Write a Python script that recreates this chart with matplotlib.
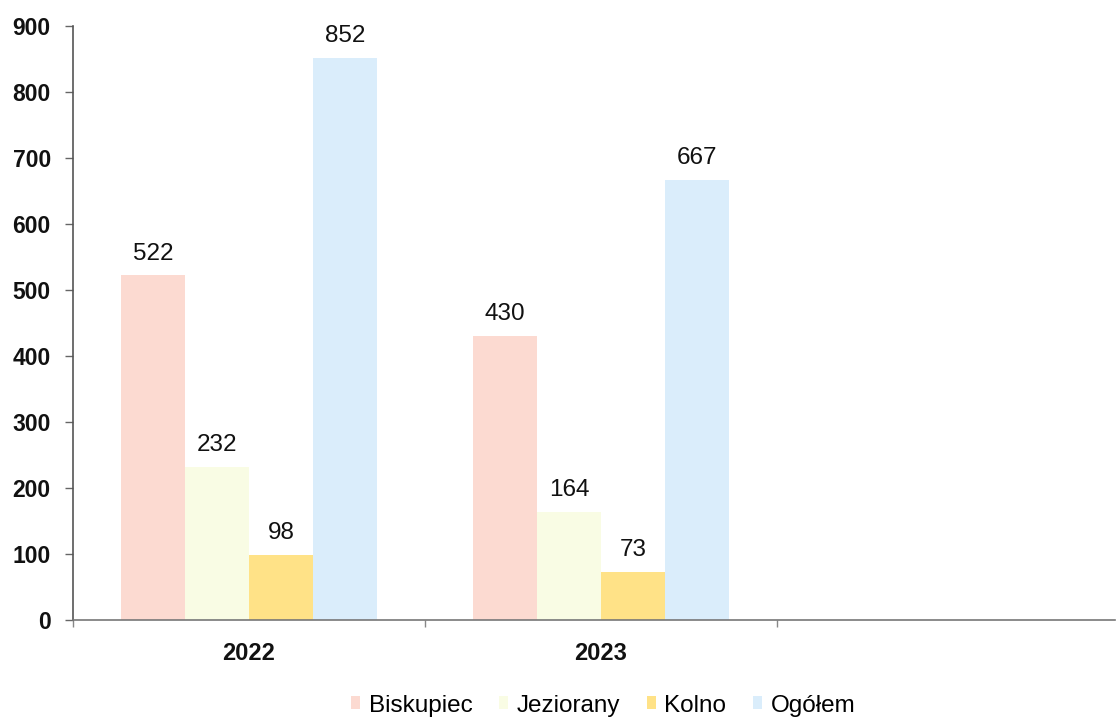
import matplotlib
matplotlib.use("Agg")
import matplotlib.pyplot as plt
import numpy as np

plt.rcParams['font.family'] = ['Liberation Sans', 'DejaVu Sans']

categories = ["2022", "2023", ""]
series_names = ["Biskupiec", "Jeziorany", "Kolno", "Ogółem"]
values = {
    "Biskupiec": [522, 430, None],
    "Jeziorany": [232, 164, None],
    "Kolno": [98, 73, None],
    "Ogółem": [852, 667, None],
}
colors = {
    "Biskupiec": "#FCDAD1",
    "Jeziorany": "#F9FCE4",
    "Kolno": "#FFE287",
    "Ogółem": "#DAEDFB",
}
yticks = [0, 100, 200, 300, 400, 500, 600, 700, 800, 900]

fig = plt.figure(figsize=(11.19, 7.17), dpi=100)
ax = fig.add_axes([73 / 1119, 1 - 620 / 717, (1115 - 73) / 1119, (620 - 26) / 717])

x = np.arange(len(categories))
bw = 0.182
handles = []
for i, name in enumerate(series_names):
    vals = values[name]
    xs = [x[j] + (i - 1.5) * bw for j in range(len(vals)) if vals[j] is not None]
    vs = [v for v in vals if v is not None]
    b = ax.bar(xs, vs, width=bw, color=colors[name], label=name, linewidth=0)
    handles.append(b)
    for xx, v in zip(xs, vs):
        ax.annotate(str(v), (xx, v), xytext=(0, 11.5), textcoords="offset points",
                    ha="center", va="baseline", fontsize=17.5, color="#111111")

ax.set_xlim(-0.5, 2.46)
ax.set_ylim(0, 900)
ax.set_yticks(yticks)
ax.set_yticklabels([str(t) for t in yticks], fontsize=16.5, fontweight="bold", color="#111111")
ax.tick_params(axis="y", direction="out", length=6, width=1, color="#666666", pad=10)

ax.set_xticks([0, 1])
ax.set_xticklabels(categories[:2], fontsize=17, fontweight="bold", color="#111111")
ax.tick_params(axis="x", which="major", length=0, pad=16)
ax.set_xticks([-0.5, 0.5, 1.5], minor=True)
ax.tick_params(axis="x", which="minor", direction="out", length=5, width=1, color="#888888")

for s in ["top", "right"]:
    ax.spines[s].set_visible(False)
ax.spines["left"].set_color("#555555")
ax.spines["left"].set_linewidth(1.2)
ax.spines["bottom"].set_color("#777777")
ax.spines["bottom"].set_linewidth(1.2)

fig.legend(handles=handles, labels=series_names, loc="center",
           bbox_to_anchor=(0.539, 0.016), ncol=4, frameon=False, fontsize=17.5,
           handlelength=0.36, handleheight=0.45, handletextpad=0.36,
           columnspacing=1.1, borderpad=0)

fig.savefig("out.png", dpi=100)
